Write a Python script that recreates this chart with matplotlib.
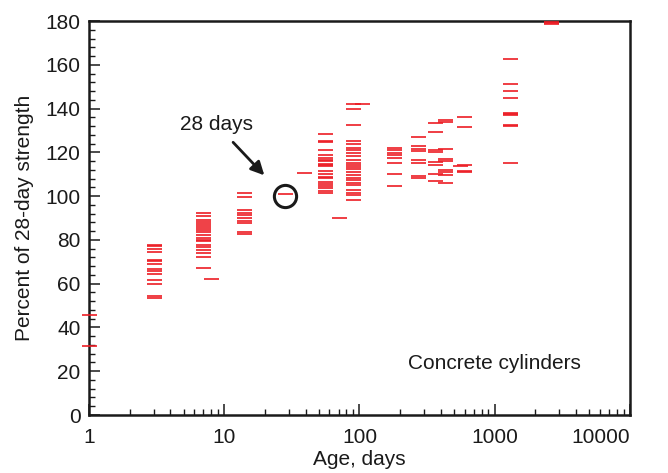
import matplotlib
matplotlib.use("Agg")
import matplotlib.pyplot as plt
from matplotlib.ticker import MultipleLocator, FixedLocator, FixedFormatter, LogLocator, NullFormatter

plt.rcParams['font.family'] = ['Liberation Sans', 'DejaVu Sans']

# ---- data: age (days) -> strength values (% of 28-day strength) ----
ages = [1, 3, 7, 8, 14, 28, 39, 56, 71, 90, 105, 180, 270, 365, 430, 550, 590, 1290, 2600]
strength = [
    [45.5, 31.5],
    [77.8, 77.3, 75.8, 74.5, 70.8, 70.2, 69.0, 66.8, 66.0, 64.3, 61.7, 59.8, 54.4, 53.5],
    [92.4, 90.8, 89.2, 88.0, 87.4, 86.3, 85.4, 84.5, 83.8, 82.1, 80.9, 80.0, 79.4,
     77.7, 76.7, 75.5, 74.1, 72.2, 67.2],
    [62.0],
    [101.3, 99.6, 93.5, 92.1, 91.6, 89.9, 88.6, 87.9, 83.6, 82.7],
    [101.0],
    [110.4],
    [128.2, 125.2, 124.6, 120.9, 118.6, 117.3, 116.5, 116.0, 114.8, 114.2, 113.6, 111.3,
     110.1, 108.9, 108.1, 106.4, 105.4, 104.5, 103.6, 102.3, 101.3],
    [89.9],
    [141.9, 139.7, 132.3, 125.0, 123.8, 122.1, 121.1, 119.6, 118.3, 116.3, 115.3, 114.2,
     113.2, 112.2, 111.0, 109.5, 108.5, 107.2, 106.0, 104.9, 102.8, 101.4, 100.6, 98.1],
    [141.9],
    [121.8, 120.9, 119.5, 118.8, 117.3, 115.0, 110.0, 104.5],
    [127.0, 122.9, 121.6, 120.8, 116.5, 115.3, 109.2, 108.3],
    [133.4, 129.3, 121.0, 120.0, 115.6, 114.2, 110.1, 106.9],
    [134.6, 133.9, 121.4, 117.0, 116.2, 111.9, 111.1, 109.5, 106.0],
    [113.6],
    [136.1, 131.6, 114.1, 111.4, 110.8],
    [162.5, 151.1, 148.0, 144.7, 138.1, 137.4, 136.9, 132.6, 131.9, 115.0],
    [179.7, 179.2, 178.7],
]

xticks = [1, 10, 100, 1000, 10000]
xticklabels = ['1', '10', '100', '1000', '10000']
yticks = [0, 20, 40, 60, 80, 100, 120, 140, 160, 180]

red = '#ec1c24'
ink = '#1a1a1a'
fs = 15

fig = plt.figure(figsize=(6.68, 4.73), dpi=100)
ax = fig.add_axes([0.1332, 0.1226, 0.943 - 0.1332, 0.9556 - 0.1226])

for a, vals in zip(ages, strength):
    ax.plot([a] * len(vals), vals, linestyle='none', marker='_', markersize=10.8,
            markeredgewidth=1.2, color=red, clip_on=False, zorder=3)

# 28-day reference circle
ax.plot([28], [100], linestyle='none', marker='o', markersize=16, fillstyle='none',
        markeredgewidth=2.2, color=ink, zorder=4)

ax.annotate('28 days', xy=(19.8, 109.5), xytext=(8.8, 132.5),
            ha='center', va='center', fontsize=fs, color=ink,
            arrowprops=dict(arrowstyle='-|>', color=ink, lw=2.0,
                            mutation_scale=20, shrinkA=5, shrinkB=0))

ax.text(1000, 23.5, 'Concrete cylinders', ha='center', va='center', fontsize=fs,
        color=ink)

ax.set_xscale('log')
ax.set_xlim(1, 10000)
ax.set_ylim(0, 180)
ax.xaxis.set_major_locator(FixedLocator(xticks))
ax.xaxis.set_major_formatter(FixedFormatter(xticklabels))
ax.xaxis.set_minor_locator(LogLocator(base=10, subs=range(2, 10)))
ax.xaxis.set_minor_formatter(NullFormatter())
ax.yaxis.set_major_locator(FixedLocator(yticks))
ax.yaxis.set_minor_locator(MultipleLocator(4))

ax.tick_params(which='both', direction='in', top=False, right=False, colors=ink,
               labelsize=fs)
ax.tick_params(which='major', length=8, width=1.1)
ax.tick_params(which='minor', length=4, width=1.0)
ax.tick_params(axis='x', which='major', pad=9)
ax.tick_params(axis='y', which='major', pad=6)

for s in ax.spines.values():
    s.set_linewidth(1.8)
    s.set_color(ink)

ax.set_xlabel('Age, days', fontsize=fs, color=ink, labelpad=2.5)
ax.set_ylabel('Percent of 28-day strength', fontsize=fs, color=ink, labelpad=8)

labels = ax.get_xticklabels()
labels[-1].set_horizontalalignment('right')

fig.savefig('out.png', dpi=100)
